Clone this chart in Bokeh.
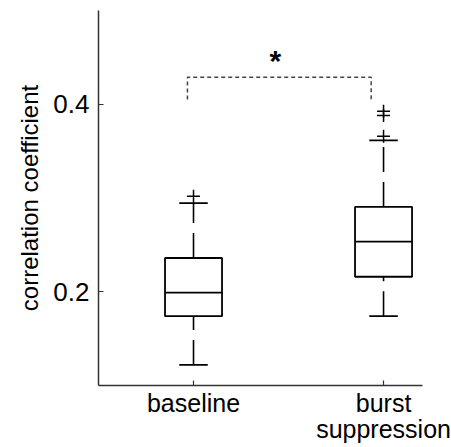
from bokeh.plotting import figure
from bokeh.models import FixedTicker, Range1d, ColumnDataSource
from bokeh.embed import file_html
from bokeh.resources import INLINE
from bokeh.core.properties import value

# ---- data ----
positions = [1, 2]
group_labels = ["baseline", "burst\nsuppression"]
q1 = [0.174, 0.216]
median = [0.199, 0.2535]
q3 = [0.236, 0.2905]
whisker_low = [0.122, 0.174]
whisker_high = [0.2945, 0.3615]
outlier_x = [1, 2, 2, 2]
outlier_y = [0.302, 0.366, 0.388, 0.3925]
y_ticks = [0.2, 0.4]
bracket_x = [0.968, 0.968, 1.935, 1.935]
bracket_y = [0.405, 0.4287, 0.4287, 0.405]
star_x = [1.43]
star_y = [0.447]
star_text = ["*"]

box_width = 0.3
cap_width = 0.15
FONT = "Liberation Sans"

p = figure(width=451, height=447, output_backend="svg", toolbar_location=None,
           x_range=Range1d(0.5, 2.205), y_range=Range1d(0.1, 0.5),
           min_border_left=98, min_border_right=29, min_border_top=10,
           min_border_bottom=62)
p.outline_line_color = None
p.grid.visible = False
p.background_fill_color = "white"
p.border_fill_color = "white"

left = [x - box_width / 2 for x in positions]
right = [x + box_width / 2 for x in positions]
cap_l = [x - cap_width / 2 for x in positions]
cap_r = [x + cap_width / 2 for x in positions]

src = ColumnDataSource(dict(x=positions, left=left, right=right, cap_l=cap_l, cap_r=cap_r,
                            q1=q1, med=median, q3=q3, lo=whisker_low, hi=whisker_high))

# whiskers (dashed, drawn bottom-to-top)
p.segment(x0="x", y0="q3", x1="x", y1="hi", source=src, line_color="black",
          line_width=1.6, line_dash="25 10")
p.segment(x0="x", y0="lo", x1="x", y1="q1", source=src, line_color="black",
          line_width=1.6, line_dash="25 10")
# caps
p.segment(x0="cap_l", y0="hi", x1="cap_r", y1="hi", source=src, line_color="black", line_width=1.6)
p.segment(x0="cap_l", y0="lo", x1="cap_r", y1="lo", source=src, line_color="black", line_width=1.6)
# boxes
p.quad(left="left", right="right", bottom="q1", top="q3", source=src, fill_color=None,
       line_color="black", line_width=1.8)
# medians
p.segment(x0="left", y0="med", x1="right", y1="med", source=src, line_color="black", line_width=1.8)
# outliers
p.scatter(outlier_x, outlier_y, marker="cross", size=13, line_color="black", line_width=1.5)

# significance bracket
p.line(bracket_x, bracket_y, line_color="#444444", line_width=1.5, line_dash="4 3")
p.text(star_x, star_y, text=star_text, text_font=value(FONT), text_font_size="30px",
       text_font_style="bold", text_align="center", text_baseline="alphabetic",
       text_color="black")

# axes
p.xaxis.ticker = FixedTicker(ticks=positions)
p.xaxis.major_label_overrides = {pos: lab for pos, lab in zip(positions, group_labels)}
p.yaxis.ticker = FixedTicker(ticks=y_ticks)
p.xaxis.minor_tick_line_color = None
p.yaxis.minor_tick_line_color = None
for ax in (p.xaxis, p.yaxis):
    ax.axis_line_color = "#333333"
    ax.axis_line_width = 1.5
    ax.major_tick_line_color = "#333333"
    ax.major_tick_line_width = 1.2
    ax.major_tick_in = 5
    ax.major_tick_out = 0
    ax.major_label_text_font = FONT
    ax.major_label_text_color = "black"
p.xaxis.major_label_text_font_size = "25px"
p.xaxis.major_label_text_line_height = 0.95
p.xaxis.major_label_standoff = 3
p.yaxis.major_label_text_font_size = "26px"
p.yaxis.major_label_standoff = 9
p.yaxis.axis_label = "correlation coefficient"
p.yaxis.axis_label_text_font = FONT
p.yaxis.axis_label_text_font_size = "24px"
p.yaxis.axis_label_text_font_style = "normal"
p.yaxis.axis_label_text_color = "black"
p.yaxis.axis_label_standoff = 7

open("out.html", "w").write(file_html(p, INLINE))
